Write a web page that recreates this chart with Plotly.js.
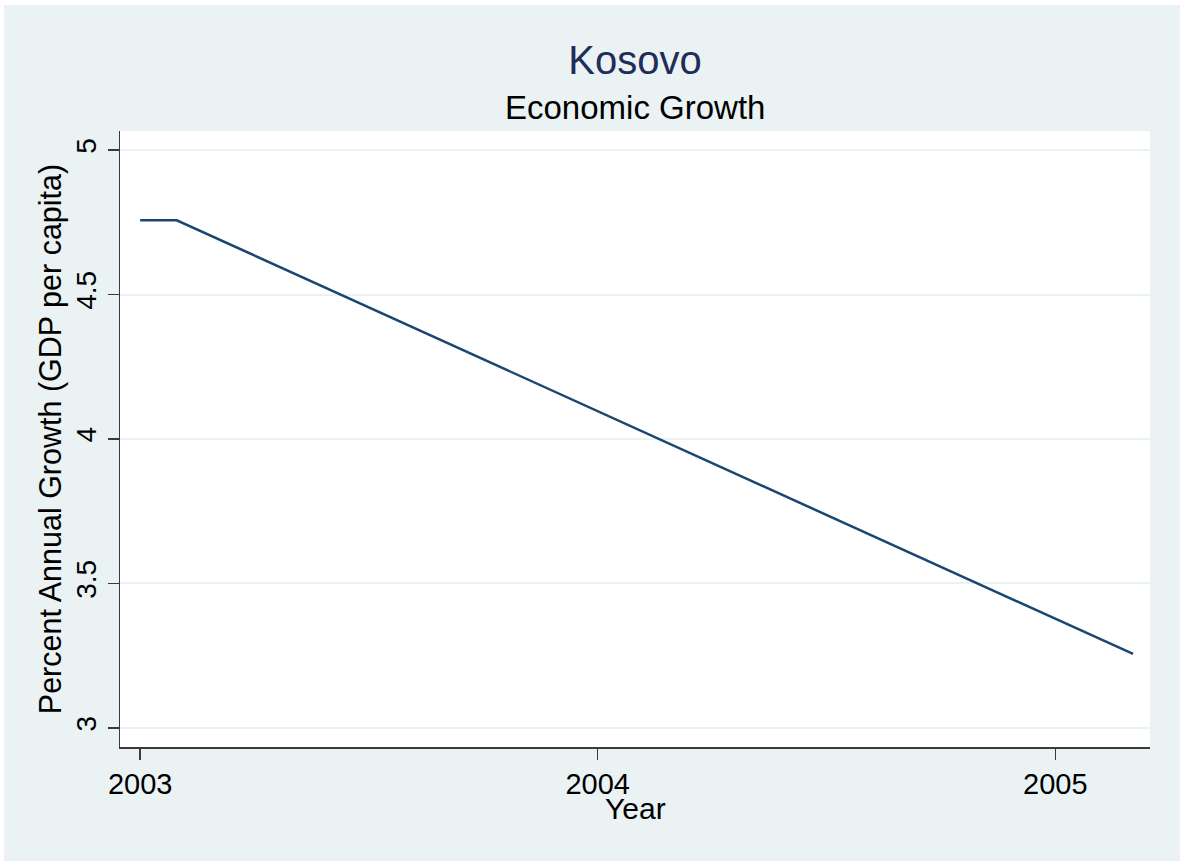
<!DOCTYPE html>
<html>
<head>
<meta charset="utf-8">
<script src="https://cdn.plot.ly/plotly-3.0.1.min.js"></script>
<style>
  html, body { margin: 0; padding: 0; background: #ffffff; }
  #chart { position: absolute; left: 4px; top: 5px; width: 1176px; height: 856px; }
</style>
</head>
<body>
<div id="chart"></div>
<script>
// Kosovo: annual GDP per capita growth
const years = [2003, 2003.08, 2005.17];
const growth = [4.757, 4.757, 3.256];
const yTickVals = [3, 3.5, 4, 4.5, 5];
const yTickText = ['3', '3.5', '4', '4.5', '5'];
const xTickVals = [2003, 2004, 2005];
const xTickText = ['2003', '2004', '2005'];

const font = 'Liberation Sans, Arial, sans-serif';
const bg = '#EAF2F3';
const axisCol = '#3a3a3a';

const trace = {
  x: years,
  y: growth,
  type: 'scatter',
  mode: 'lines',
  line: { color: '#1A476F', width: 2.5 },
  hoverinfo: 'x+y'
};

const layout = {
  width: 1176,
  height: 856,
  paper_bgcolor: bg,
  plot_bgcolor: '#ffffff',
  margin: { l: 116, r: 30, t: 126, b: 114 },
  showlegend: false,
  font: { family: font, color: '#000000' },
  title: {
    text: 'Kosovo',
    font: { family: font, size: 40, color: '#1E2D5A' },
    x: 0.5,
    xanchor: 'center',
    xref: 'paper',
    yref: 'container',
    y: 1 - 55 / 856,
    yanchor: 'middle'
  },
  annotations: [
    {
      // subtitle
      text: 'Economic Growth',
      xref: 'paper', yref: 'paper',
      x: 0.5, xanchor: 'center',
      y: 1 + (126 - 102) / 616, yanchor: 'middle',
      showarrow: false,
      font: { family: font, size: 33, color: '#000000' }
    },
    {
      // x-axis title, set snug under the tick labels
      text: 'Year',
      xref: 'paper', yref: 'paper',
      x: 0.5, xanchor: 'center',
      y: 1 - (803 - 126) / 616, yanchor: 'middle',
      showarrow: false,
      font: { family: font, size: 30, color: '#000000' }
    }
  ],
  xaxis: {
    range: [2002.956, 2005.207],
    tickvals: xTickVals,
    ticktext: xTickText,
    ticks: 'outside',
    ticklen: 11,
    tickwidth: 1.5,
    tickcolor: axisCol,
    showline: true,
    linecolor: axisCol,
    linewidth: 1.5,
    showgrid: false,
    zeroline: false,
    tickfont: { family: font, size: 29, color: '#000000' },
    automargin: false
  },
  yaxis: {
    range: [2.934, 5.066],
    tickvals: yTickVals,
    ticktext: yTickText,
    tickangle: -90,
    ticks: 'outside',
    ticklen: 11,
    tickwidth: 1.5,
    tickcolor: axisCol,
    showline: true,
    linecolor: axisCol,
    linewidth: 1.5,
    showgrid: true,
    gridcolor: bg,
    gridwidth: 2,
    zeroline: false,
    tickfont: { family: font, size: 28, color: '#000000' },
    title: { text: 'Percent Annual Growth (GDP per capita)', font: { family: font, size: 30.5, color: '#000000' }, standoff: 0 },
    automargin: false
  }
};

Plotly.newPlot('chart', [trace], layout, { displayModeBar: false, staticPlot: true });
</script>
</body>
</html>
